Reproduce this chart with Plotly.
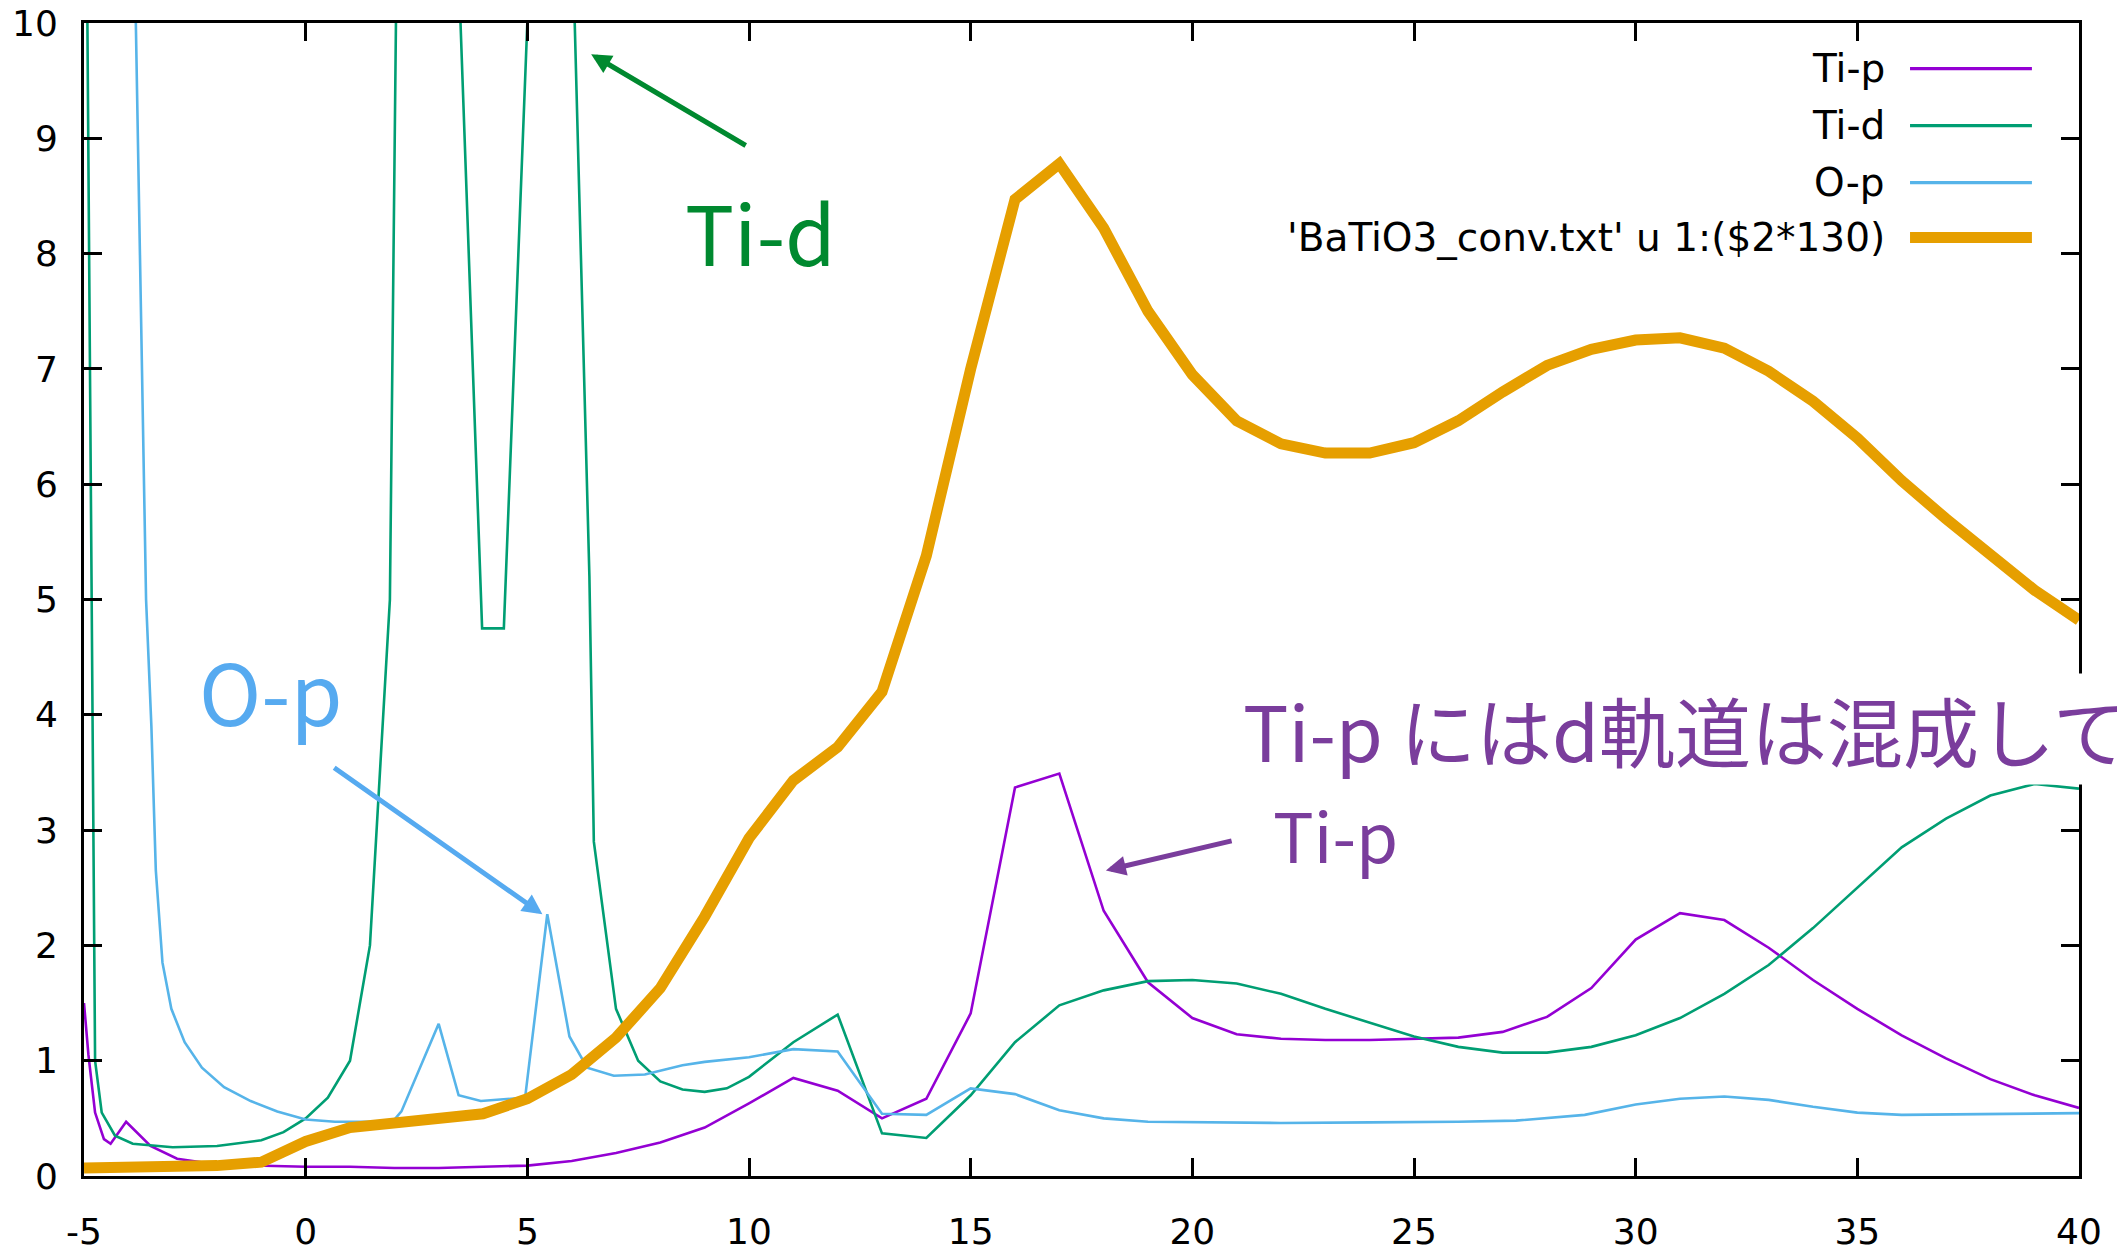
import plotly.graph_objects as go

# ---- projected DOS curves (energy in x, DOS in y) ----
x_tip = [-5.0, -4.9, -4.75, -4.55, -4.4, -4.05, -3.5, -2.9, -2.0, -1.0, 0.0, 1.0, 2.0, 3.0, 4.0, 5.0,
         6.0, 7.0, 8.0, 9.0, 10.0, 11.0, 12.0, 13.0, 14.0, 15.0, 16.0, 17.0, 18.0, 19.0, 20.0,
         21.0, 22.0, 23.0, 24.0, 25.0, 26.0, 27.0, 28.0, 29.0, 30.0, 31.0, 32.0, 33.0, 34.0,
         35.0, 36.0, 37.0, 38.0, 39.0, 40.0]
y_tip = [1.5, 1.05, 0.55, 0.32, 0.28, 0.47, 0.26, 0.15, 0.1, 0.09, 0.08, 0.08, 0.07, 0.07, 0.08, 0.09,
         0.13, 0.2, 0.29, 0.42, 0.63, 0.85, 0.74, 0.5, 0.67, 1.41, 3.37, 3.49, 2.3, 1.68, 1.37,
         1.23, 1.19, 1.18, 1.18, 1.19, 1.2, 1.25, 1.38, 1.63, 2.05, 2.28, 2.22, 1.98, 1.7,
         1.45, 1.22, 1.02, 0.84, 0.7, 0.59]

x_tid = [-5.0, -4.75, -4.6, -4.3, -3.9, -3.0, -2.0, -1.0, -0.5, 0.0, 0.5, 1.0, 1.45, 1.6, 1.9, 2.05,
         2.5, 3.0, 3.4, 3.98, 4.47, 5.05, 5.5, 6.0, 6.4, 6.5, 7.0, 7.5, 8.0, 8.5, 9.0, 9.5, 10.0,
         11.0, 12.0, 13.0, 14.0, 15.0, 16.0, 17.0, 18.0, 19.0, 20.0, 21.0, 22.0, 23.0, 24.0,
         25.0, 26.0, 27.0, 28.0, 29.0, 30.0, 31.0, 32.0, 33.0, 34.0, 35.0, 36.0, 37.0, 38.0,
         39.0, 40.0]
y_tid = [14.0, 1.0, 0.55, 0.35, 0.28, 0.25, 0.26, 0.31, 0.38, 0.5, 0.68, 1.0, 2.0, 3.0, 5.0, 10.5,
         30.0, 20.0, 11.0, 4.75, 4.75, 10.5, 25.0, 11.0, 5.2, 2.9, 1.45, 1.0, 0.82, 0.75, 0.73, 0.76, 0.86,
         1.16, 1.4, 0.37, 0.33, 0.7, 1.16, 1.48, 1.61, 1.69, 1.7, 1.67, 1.58, 1.45, 1.33,
         1.21, 1.12, 1.07, 1.07, 1.12, 1.22, 1.37, 1.58, 1.83, 2.15, 2.5, 2.85, 3.1, 3.3,
         3.4, 3.36]

x_op = [-5.0, -3.9, -3.6, -3.48, -3.38, -3.23, -3.03, -2.73, -2.34, -1.84, -1.24, -0.64, 0.0, 0.66,
        1.96, 2.16, 3.0, 3.45, 3.95, 4.95, 5.45, 5.95, 6.35, 6.95, 7.65, 8.5, 9.0, 10.0, 11.0,
        12.0, 13.0, 14.0, 15.0, 16.0, 17.0, 18.0, 19.0, 20.0, 22.0, 24.0, 26.0, 27.3, 28.85,
        30.0, 31.0, 32.0, 33.0, 34.0, 35.0, 36.0, 38.0, 40.0]
y_op = [40.0, 11.5, 5.0, 3.9, 2.65, 1.85, 1.45, 1.16, 0.94, 0.77, 0.65, 0.56, 0.49, 0.47,
        0.47, 0.56, 1.32, 0.7, 0.65, 0.68, 2.27, 1.21, 0.94, 0.87, 0.88, 0.96, 0.99, 1.03, 1.1,
        1.08, 0.54, 0.53, 0.76, 0.71, 0.57, 0.5, 0.47, 0.465, 0.46, 0.465, 0.47, 0.48, 0.53,
        0.62, 0.67, 0.69, 0.66, 0.6, 0.55, 0.53, 0.535, 0.545]

# broadened total spectrum, scaled by 130
x_conv = list(range(-5, 41))
y_conv = [0.07, 0.07, 0.08, 0.09, 0.12, 0.3, 0.42, 0.46, 0.48, 0.54, 0.67, 0.88, 1.2, 1.63, 2.25,
          2.93, 3.43, 3.72, 4.2, 5.38, 7.0, 8.47, 8.78, 8.22, 7.5, 6.95, 6.55, 6.35, 6.27, 6.27,
          6.36, 6.55, 6.8, 7.03, 7.17, 7.25, 7.27, 7.18, 6.98, 6.72, 6.4, 6.03, 5.7, 5.38, 5.08, 4.82]

series_names = ["Ti-p", "Ti-d", "O-p", "'BaTiO3_conv.txt' u 1:($2*130)"]
series_colors = ["#9400D3", "#009E73", "#56B4E9", "#E69F00"]
series_widths = [2.6, 2.6, 2.6, 11]
series_x = [x_tip, x_tid, x_op, x_conv]
series_y = [y_tip, y_tid, y_op, y_conv]

x_ticks = [-5, 0, 5, 10, 15, 20, 25, 30, 35, 40]
y_ticks = list(range(0, 11))

fig = go.Figure()
for name, xs, ys, color, width in zip(series_names, series_x, series_y, series_colors, series_widths):
    fig.add_trace(go.Scatter(x=xs, y=ys, mode="lines", name=name, showlegend=False,
                             line=dict(color=color, width=width), hoverinfo="skip"))

tick_font = dict(family="DejaVu Sans", size=36, color="#000000")
axis_common = dict(showline=True, linecolor="#000000", linewidth=3, mirror="allticks",
                   ticks="inside", ticklen=18, tickwidth=3, tickcolor="#000000",
                   showgrid=False, zeroline=False, tickfont=tick_font, automargin=False)

fig.update_xaxes(range=[-5, 40], tickvals=x_ticks, ticktext=[str(v) for v in x_ticks],
                 ticklabelstandoff=22, **axis_common)
fig.update_yaxes(range=[0, 10], tickvals=y_ticks, ticktext=[str(v) for v in y_ticks],
                 ticklabelstandoff=16, **axis_common)

# key in the top-right corner: label right-aligned, line sample to its right
key_y = [0.9605, 0.9110, 0.8615, 0.8140]
key_w = [3.2, 3.2, 3.2, 11]
for name, color, yk, w in zip(series_names, series_colors, key_y, key_w):
    fig.add_annotation(xref="paper", yref="paper", x=0.9040, y=yk, text=name, showarrow=False,
                       xanchor="right", yanchor="middle",
                       font=dict(family="DejaVu Sans", size=39, color="#000000"))
    fig.add_shape(type="line", xref="paper", yref="paper", x0=0.9153, x1=0.9764, y0=yk, y1=yk,
                  line=dict(color=color, width=w))

# callouts
green_txt = "#00892F"
blue_txt = "#56AAF0"
purple_txt = "#7A3D9C"
cjk = "Noto Sans CJK JP"

fig.add_annotation(x=6.44, y=9.73, ax=9.96, ay=8.93, xref="x", yref="y", axref="x", ayref="y",
                   text="", showarrow=True, arrowhead=2, arrowsize=0.8, arrowwidth=5,
                   arrowcolor=green_txt)
fig.add_annotation(x=10.25, y=8.2, xref="x", yref="y", text="Ti-d", showarrow=False,
                   font=dict(family=cjk, size=82, color=green_txt))

fig.add_annotation(x=5.34, y=2.27, ax=0.61, ay=3.55, xref="x", yref="y", axref="x", ayref="y",
                   text="", showarrow=True, arrowhead=2, arrowsize=0.8, arrowwidth=5,
                   arrowcolor=blue_txt)
fig.add_annotation(x=-0.78, y=4.22, xref="x", yref="y", text="O-p", showarrow=False,
                   font=dict(family=cjk, size=84, color=blue_txt))

fig.add_annotation(x=18.05, y=2.65, ax=20.92, ay=2.91, xref="x", yref="y", axref="x", ayref="y",
                   text="", showarrow=True, arrowhead=2, arrowsize=0.8, arrowwidth=5,
                   arrowcolor=purple_txt)
fig.add_annotation(x=23.24, y=2.97, xref="x", yref="y", text="Ti-p", showarrow=False,
                   font=dict(family=cjk, size=68, color=purple_txt))

fig.add_annotation(x=21.12, y=3.88, xref="x", yref="y", text="Ti-p にはd軌道は混成していない",
                   showarrow=False, xanchor="left", yanchor="middle", bgcolor="#FFFFFF",
                   borderpad=0, font=dict(family=cjk, size=76, color=purple_txt))

fig.update_layout(width=2117, height=1256, margin=dict(l=84, r=38, t=23, b=80, autoexpand=False),
                  paper_bgcolor="#FFFFFF", plot_bgcolor="#FFFFFF", showlegend=False)

fig.write_html("out.html")
